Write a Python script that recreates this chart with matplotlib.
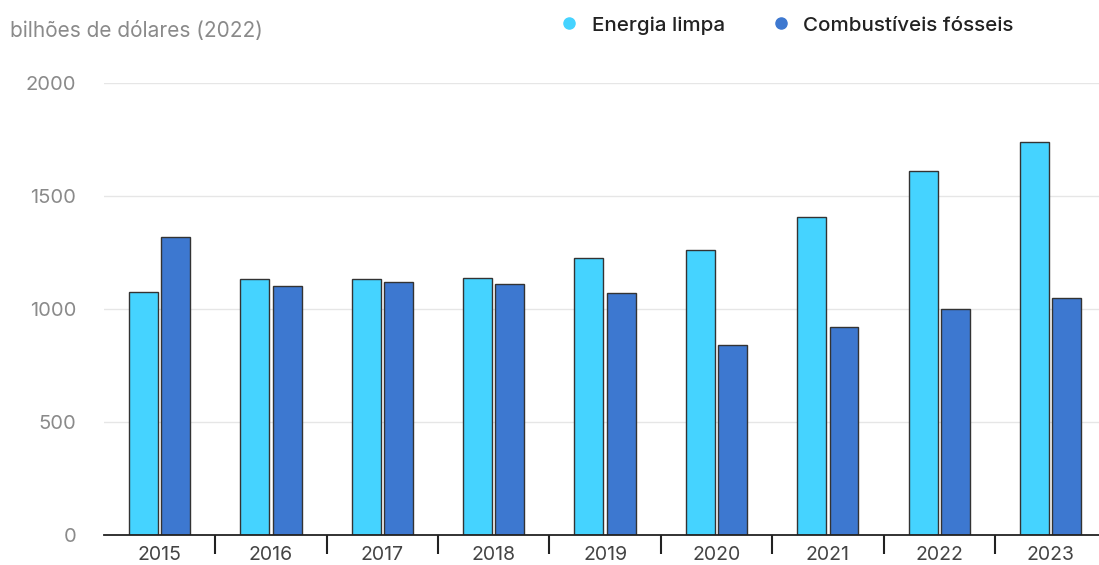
import numpy as np
import matplotlib
matplotlib.use("Agg")
import matplotlib.pyplot as plt
from matplotlib.lines import Line2D

years = ["2015", "2016", "2017", "2018", "2019", "2020", "2021", "2022", "2023"]
clean_energy = [1075, 1133, 1133, 1137, 1226, 1261, 1407, 1611, 1739]
fossil_fuels = [1319, 1102, 1119, 1111, 1071, 841, 920, 1000, 1049]
series_names = ["Energia limpa", "Combustíveis fósseis"]
y_ticks = [0, 500, 1000, 1500, 2000]

CLEAN = "#45D3FF"
FOSSIL = "#3D78D0"
EDGE = "#333333"

plt.rcParams["font.family"] = ["Inter", "DejaVu Sans"]

fig = plt.figure(figsize=(10.99, 5.65), dpi=100)
ax = fig.add_axes([0.0946, 0.0531, 0.912, 0.800])

x = np.arange(len(years))
w = 0.26
ax.bar(x - 0.145, clean_energy, w, color=CLEAN, edgecolor=EDGE, linewidth=1.0, zorder=3)
ax.bar(x + 0.145, fossil_fuels, w, color=FOSSIL, edgecolor=EDGE, linewidth=1.0, zorder=3)

ax.set_xlim(-0.5, len(years) - 0.5)
ax.set_ylim(0, 2000)

ax.set_yticks(y_ticks)
ax.set_yticklabels([str(v) for v in y_ticks], fontsize=14.5, color="#8a8a8a")
ax.tick_params(axis="y", length=0, pad=20)
ax.yaxis.grid(True, color="#e6e6e6", linewidth=1.0, zorder=0)

# labels at category centres, tick marks between categories
ax.set_xticks(x)
ax.set_xticklabels(years, fontsize=14, color="#444444")
ax.tick_params(axis="x", which="major", length=0, pad=8)
ax.set_xticks(x[:-1] + 0.5, minor=True)
ax.tick_params(axis="x", which="minor", length=14, width=1.5, color="#222222")

for side in ["top", "right", "left"]:
    ax.spines[side].set_visible(False)
ax.spines["bottom"].set_color("#222222")
ax.spines["bottom"].set_linewidth(1.3)
ax.spines["bottom"].set_zorder(4)

fig.text(0.009, 0.945, "bilhões de dólares (2022)", fontsize=15, color="#8a8a8a",
         va="center", ha="left")

handles = [Line2D([], [], marker="o", linestyle="none", markersize=8, color=c)
           for c in (CLEAN, FOSSIL)]
leg = fig.legend(handles, series_names, loc="center left", bbox_to_anchor=(0.492, 0.955),
                 ncol=2, frameon=False, fontsize=14.8, handletextpad=0.6,
                 columnspacing=2.2, handlelength=1.0)
for t in leg.get_texts():
    t.set_color("#222222")
    t.set_fontweight("medium")

fig.savefig("out.png", dpi=100)
